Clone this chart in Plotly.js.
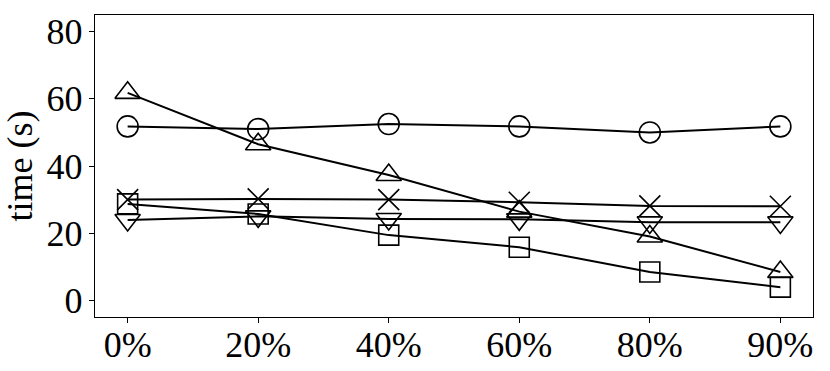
<!DOCTYPE html>
<html>
<head>
<meta charset="utf-8">
<script src="https://cdn.plot.ly/plotly-3.0.1.min.js"></script>
<style>
  html, body { margin: 0; padding: 0; background: #fff; }
  #chart { width: 830px; height: 371px; }
</style>
</head>
<body>
<div id="chart"></div>
<script>
// x categories
let ratios = ["0%", "20%", "40%", "60%", "80%", "90%"];

// time (s) per method
let circleTimes = [51.8, 51.0, 52.5, 51.8, 50.0, 51.8];
let triUpTimes = [61.8, 46.5, 37.3, 26.4, 19.0, 8.4];
let crossTimes = [30.0, 30.2, 30.0, 29.2, 28.1, 28.0];
let squareTimes = [28.7, 25.7, 19.4, 15.8, 8.4, 3.9];
let triDownTimes = [23.9, 25.0, 24.2, 24.1, 23.2, 23.2];

let yTicks = [0, 20, 40, 60, 80];

function makeTrace(name, values, symbol, size) {
    return {
        x: ratios,
        y: values,
        name: name,
        type: "scatter",
        mode: "lines+markers",
        line: { color: "#000", width: 2 },
        marker: {
            symbol: symbol,
            size: size,
            color: "#000",
            line: { color: "#000", width: 1.6 }
        }
    };
}

let traces = [
    makeTrace("circle", circleTimes, "circle-open", 21),
    makeTrace("triangle-up", triUpTimes, "triangle-up-open", 22),
    makeTrace("cross", crossTimes, "x-thin-open", 21),
    makeTrace("square", squareTimes, "square-open", 20),
    makeTrace("triangle-down", triDownTimes, "triangle-down-open", 22)
];

let axisFont = { family: "Liberation Serif", size: 36, color: "#000" };

let layout = {
    width: 830,
    height: 371,
    margin: { l: 95, r: 17, t: 15, b: 54 },
    paper_bgcolor: "#fff",
    plot_bgcolor: "#fff",
    showlegend: false,
    font: axisFont,
    xaxis: {
        type: "category",
        range: [-0.25, 5.25],
        showgrid: false,
        zeroline: false,
        showline: true,
        linecolor: "#000",
        linewidth: 1.2,
        mirror: true,
        ticks: "outside",
        ticklen: 5,
        tickcolor: "#000",
        tickfont: axisFont,
        ticklabelstandoff: -9
    },
    yaxis: {
        range: [-5, 85],
        tickvals: yTicks,
        showgrid: false,
        zeroline: false,
        showline: true,
        linecolor: "#000",
        linewidth: 1.2,
        mirror: true,
        ticks: "outside",
        ticklen: 5,
        tickcolor: "#000",
        tickfont: axisFont,
        ticklabelstandoff: -1,
        title: { text: "time (s)", font: axisFont, standoff: 4 }
    }
};

Plotly.newPlot("chart", traces, layout, { staticPlot: true });
</script>
</body>
</html>
